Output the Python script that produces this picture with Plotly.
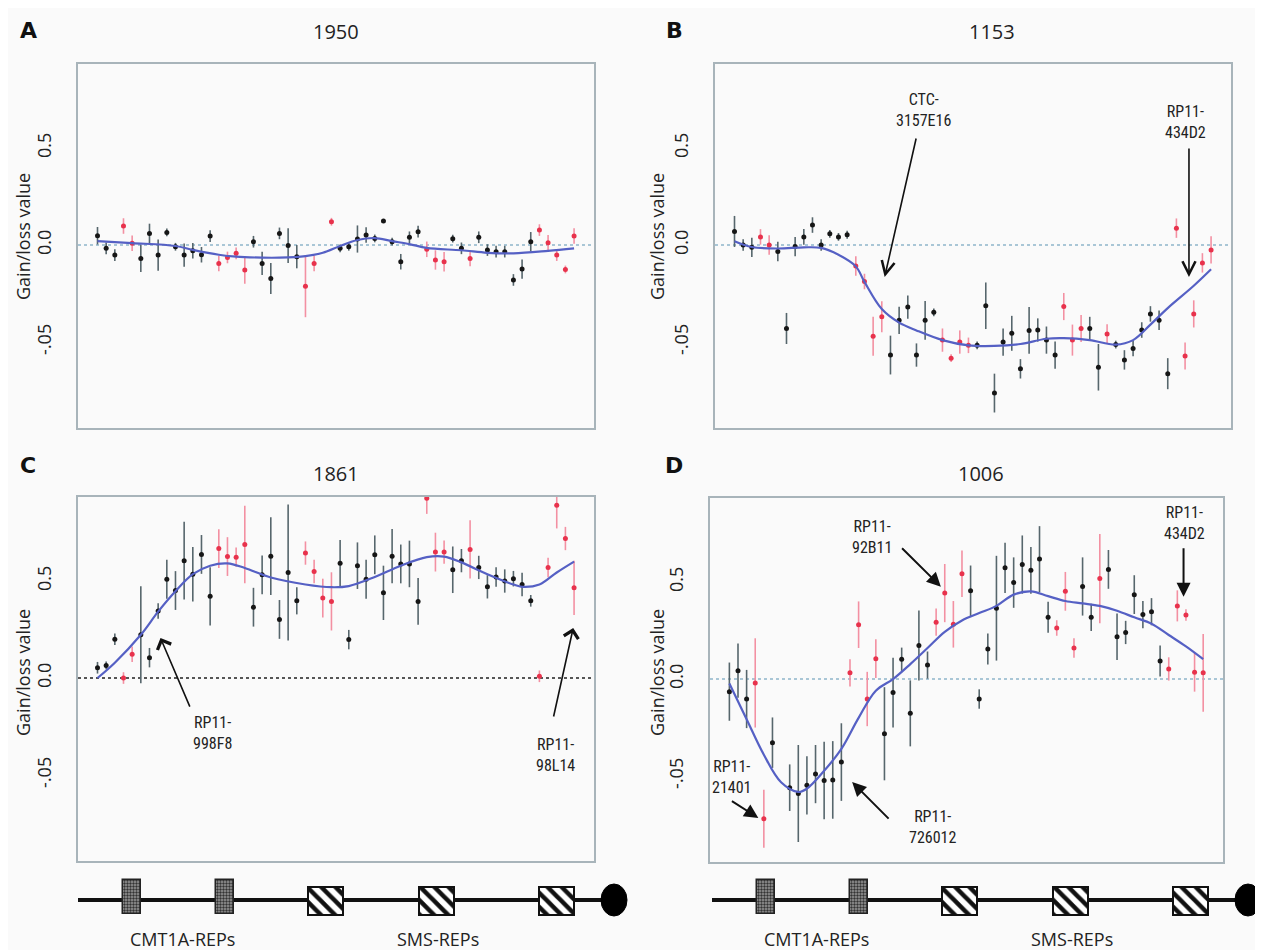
import plotly.graph_objects as go

# page offset of the plot div (browser body margin) is compensated in layout
OFF = 8
W, H = 1263 - OFF, 950 - OFF

# ---------------- data ----------------
clone_idx = list(range(56))
red_clones = [3, 4, 14, 15, 16, 17, 24, 25, 26, 27, 38, 39, 40, 43, 51, 52, 53, 54, 55]

# Panel A (1950)
a_val = [0.048, -0.017, -0.052, 0.098, 0.009, -0.069, 0.06, -0.052, 0.065, -0.009,
         -0.052, -0.03, -0.05, 0.046, -0.095, -0.064, -0.043, -0.129, 0.017, -0.095,
         -0.172, 0.06, -0.003, -0.06, -0.212, -0.095, None, 0.12, -0.017, -0.009,
         0.031, 0.052, 0.034, 0.124, 0.017, -0.086, 0.04, 0.069, -0.022, -0.077,
         -0.086, 0.033, -0.017, -0.069, 0.04, -0.026, -0.034, -0.034, -0.18, -0.124,
         0.017, 0.077, 0.012, -0.052, -0.126, 0.046]
a_err = [0.045, 0.03, 0.03, 0.04, 0.04, 0.07, 0.05, 0.08, 0.02, 0.02,
         0.06, 0.04, 0.04, 0.03, 0.04, 0.03, 0.03, 0.07, 0.03, 0.06,
         0.08, 0.03, 0.09, 0.06, 0.16, 0.04, None, 0.02, 0.02, 0.02,
         0.07, 0.04, 0.02, 0.01, 0.02, 0.04, 0.03, 0.03, 0.04, 0.05,
         0.05, 0.02, 0.03, 0.04, 0.03, 0.03, 0.03, 0.03, 0.03, 0.05,
         0.05, 0.03, 0.04, 0.03, 0.02, 0.04]
a_fit_x = [0, 4, 9, 11, 14, 16, 19, 21, 24, 26, 28, 30, 32, 34, 36, 38, 42, 45, 48, 52, 55]
a_fit_y = [0.02, 0.01, -0.005, -0.025, -0.05, -0.06, -0.065, -0.065, -0.057, -0.04, -0.005,
           0.026, 0.036, 0.02, 0.005, -0.015, -0.027, -0.04, -0.043, -0.03, -0.017]

# Panel B (1153)
b_val = [0.07, 0.0, -0.012, 0.042, 0.0, -0.033, -0.43, -0.008, 0.042, 0.103,
         0.0, 0.058, 0.042, 0.053, -0.108, -0.188, -0.47, -0.37, -0.567, -0.388,
         -0.32, -0.567, -0.388, -0.347, -0.49, -0.583, -0.5, -0.517, -0.517, -0.313,
         -0.763, -0.5, -0.455, -0.638, -0.44, -0.438, -0.49, -0.567, -0.317, -0.49,
         -0.43, -0.43, -0.63, -0.458, -0.513, -0.592, -0.533, -0.438, -0.355, -0.388,
         -0.663, 0.087, -0.572, -0.355, -0.092, -0.025]
b_err = [0.08, 0.03, 0.05, 0.04, 0.05, 0.05, 0.08, 0.05, 0.04, 0.04,
         0.03, 0.02, 0.02, 0.02, 0.05, 0.04, 0.1, 0.08, 0.1, 0.07,
         0.06, 0.06, 0.1, 0.02, 0.06, 0.02, 0.06, 0.04, 0.02, 0.12,
         0.1, 0.07, 0.09, 0.05, 0.12, 0.06, 0.07, 0.07, 0.07, 0.08,
         0.07, 0.06, 0.12, 0.05, 0.02, 0.05, 0.04, 0.04, 0.04, 0.05,
         0.08, 0.05, 0.07, 0.07, 0.05, 0.07]
b_fit_x = [0, 2, 5, 8, 10, 12, 14, 15, 17, 19, 21, 24, 27, 30, 33, 36, 38, 41, 44, 46, 48, 50, 53, 55]
b_fit_y = [0.02, -0.01, -0.018, -0.012, -0.015, -0.05, -0.11, -0.19, -0.33, -0.40, -0.44, -0.49,
           -0.517, -0.52, -0.51, -0.483, -0.48, -0.49, -0.513, -0.49, -0.41, -0.325, -0.21, -0.125]

# Panel C (1861)
c_val = [0.053, 0.065, 0.2, 0.0, 0.123, 0.223, 0.105, 0.346, 0.509, 0.451,
         0.605, 0.535, 0.637, 0.421, 0.667, 0.626, 0.623, 0.688, 0.365, 0.532,
         0.628, 0.302, 0.544, 0.398, 0.644, 0.549, 0.412, 0.395, 0.591, 0.198,
         0.579, 0.509, 0.635, 0.439, 0.628, 0.588, 0.588, 0.395, 0.926, 0.649,
         0.649, 0.558, 0.605, 0.663, 0.57, 0.47, 0.521, 0.5, 0.512, 0.482,
         0.398, 0.009, 0.57, 0.891, 0.719, 0.465]
c_err = [0.03, 0.02, 0.03, 0.03, 0.04, 0.25, 0.05, 0.04, 0.1, 0.1,
         0.2, 0.14, 0.1, 0.15, 0.1, 0.1, 0.05, 0.2, 0.1, 0.1,
         0.2, 0.1, 0.35, 0.07, 0.06, 0.06, 0.1, 0.15, 0.12, 0.05,
         0.12, 0.1, 0.1, 0.14, 0.14, 0.1, 0.12, 0.12, 0.08, 0.1,
         0.06, 0.12, 0.06, 0.15, 0.06, 0.06, 0.05, 0.06, 0.04, 0.06,
         0.03, 0.03, 0.05, 0.12, 0.06, 0.14]
c_fit_x = [0, 2, 5, 7, 9, 11, 13, 15, 17, 20, 24, 27, 29, 32, 35, 38, 40, 42, 45, 48, 49, 51, 53, 55]
c_fit_y = [0.0, 0.079, 0.223, 0.342, 0.447, 0.535, 0.579, 0.591, 0.567, 0.518, 0.482, 0.468,
           0.474, 0.521, 0.579, 0.623, 0.626, 0.596, 0.535, 0.482, 0.47, 0.482, 0.544, 0.6]

# Panel D (1006)
d_val = [-0.065, 0.043, -0.103, -0.02, -0.72, -0.328, None, -0.56, -0.59, -0.548,
         -0.49, -0.523, -0.52, -0.428, 0.032, 0.28, -0.103, 0.105, -0.282, -0.07,
         0.102, -0.177, 0.173, 0.072, 0.293, 0.443, 0.282, 0.543, 0.455, -0.103,
         0.155, 0.365, 0.573, 0.497, 0.59, 0.56, 0.618, 0.318, 0.263, 0.452,
         0.16, 0.477, 0.318, 0.518, 0.565, 0.218, 0.24, 0.435, 0.332, 0.347,
         0.093, 0.052, 0.377, 0.33, 0.035, 0.032]
d_err = [0.15, 0.14, 0.15, 0.23, 0.15, 0.13, None, 0.12, 0.25, 0.15,
         0.15, 0.2, 0.2, 0.2, 0.07, 0.12, 0.14, 0.1, 0.24, 0.18,
         0.06, 0.17, 0.18, 0.07, 0.07, 0.15, 0.12, 0.12, 0.13, 0.05,
         0.08, 0.27, 0.13, 0.13, 0.15, 0.12, 0.17, 0.08, 0.04, 0.1,
         0.05, 0.15, 0.07, 0.23, 0.1, 0.12, 0.06, 0.1, 0.07, 0.07,
         0.08, 0.06, 0.08, 0.03, 0.1, 0.2]
d_fit_x = [0, 2, 4, 6, 8, 9, 11, 13, 15, 17, 19, 21, 23, 25, 27, 29, 31, 33, 35, 37, 39,
           41, 43, 45, 47, 49, 51, 53, 55]
d_fit_y = [-0.023, -0.207, -0.39, -0.532, -0.582, -0.565, -0.473, -0.36, -0.2, -0.06, 0.0,
           0.077, 0.16, 0.243, 0.302, 0.34, 0.377, 0.435, 0.452, 0.427, 0.402, 0.39, 0.377,
           0.352, 0.318, 0.285, 0.227, 0.168, 0.102]

y_tick_vals = [-0.5, 0.0, 0.5]
y_tick_text = ["-.05", "0.0", "0.5"]

# chromosome schematic
rep_pos_cmt = [54, 147]
rep_pos_sms = [247, 358, 478]
rep_labels_pos = [104, 360]
rep_labels = ["CMT1A-REPs", "SMS-REPs"]
centromere_pos = 536

# ---------------- styling ----------------
BG = "#fafafa"
FRAME = "#a8b4ba"
BLACK_PT = "#161616"
BLACK_ERR = "#56666c"
RED_PT = "#e8324c"
RED_ERR = "#f390a2"
FIT = "#5560c4"
MAIN_FONT = "Open Sans, DejaVu Sans, sans-serif"
LABEL_FONT = "Roboto Condensed, DejaVu Sans Condensed, Liberation Sans Narrow, Roboto, sans-serif"

XR = [-2.25, 57.3]
YR = [-0.943, 0.933]


def pxx(p):
    return (p - OFF) / W


def pxy(p):
    return 1 - (p - OFF) / H


panels = [
    dict(name="A", title="1950", val=a_val, err=a_err, fx=a_fit_x, fy=a_fit_y,
         box=(78, 594, 64, 428), zero="#a9c6d6", title_xy=(336, 32), letter_xy=(28, 31),
         ytitle_xy=(23, 237), ax=""),
    dict(name="B", title="1153", val=b_val, err=b_err, fx=b_fit_x, fy=b_fit_y,
         box=(715, 1231, 64, 428), zero="#a9c6d6", title_xy=(992, 32), letter_xy=(674, 31),
         ytitle_xy=(657, 237), ax="2"),
    dict(name="C", title="1861", val=c_val, err=c_err, fx=c_fit_x, fy=c_fit_y,
         box=(78, 594, 497, 861), zero="#555555", title_xy=(336, 473), letter_xy=(28, 465),
         ytitle_xy=(23, 673), ax="3"),
    dict(name="D", title="1006", val=d_val, err=d_err, fx=d_fit_x, fy=d_fit_y,
         box=(710, 1223, 498, 862), zero="#a9c6d6", title_xy=(981, 473), letter_xy=(674, 465),
         ytitle_xy=(657, 673), ax="4"),
]

fig = go.Figure()
layout = dict(width=W, height=H, margin=dict(l=0, r=0, t=0, b=0),
              paper_bgcolor=BG, plot_bgcolor=BG, showlegend=False,
              font=dict(family=MAIN_FONT, color="#222"))
annotations = []
shapes = []

for p in panels:
    ax = p["ax"]
    xa, ya = "x" + ax, "y" + ax
    x0, x1, y0, y1 = p["box"]
    layout["xaxis" + ax] = dict(domain=[pxx(x0), pxx(x1)], range=XR,
                                anchor=ya, showline=True, mirror=True, linecolor=FRAME,
                                linewidth=2, showgrid=False, zeroline=False,
                                showticklabels=False, ticks="")
    layout["yaxis" + ax] = dict(domain=[pxy(y1), pxy(y0)], range=YR,
                                anchor=xa, showline=True, mirror=True, linecolor=FRAME,
                                linewidth=2, showgrid=False, zeroline=False,
                                tickvals=y_tick_vals, ticktext=y_tick_text, tickangle=-90,
                                ticks="", ticklabelstandoff=18,
                                tickfont=dict(size=18, family=MAIN_FONT, color="#222"))
    shapes.append(dict(type="line", xref=xa + " domain", yref=ya, x0=0, x1=1, y0=0, y1=0,
                       line=dict(color=p["zero"], width=2, dash="dot"), layer="below"))
    blk_x = [i for i in clone_idx if i not in red_clones and p["val"][i] is not None]
    red_x = [i for i in clone_idx if i in red_clones and p["val"][i] is not None]
    fig.add_trace(go.Scatter(
        x=blk_x, y=[p["val"][i] for i in blk_x], mode="markers", xaxis=xa, yaxis=ya,
        marker=dict(color=BLACK_PT, size=5),
        error_y=dict(type="data", array=[p["err"][i] for i in blk_x], color=BLACK_ERR,
                     thickness=1.6, width=0)))
    fig.add_trace(go.Scatter(
        x=red_x, y=[p["val"][i] for i in red_x], mode="markers", xaxis=xa, yaxis=ya,
        marker=dict(color=RED_PT, size=5),
        error_y=dict(type="data", array=[p["err"][i] for i in red_x], color=RED_ERR,
                     thickness=1.6, width=0)))
    fig.add_trace(go.Scatter(
        x=p["fx"], y=p["fy"], mode="lines", xaxis=xa, yaxis=ya,
        line=dict(color=FIT, width=2.2, shape="spline", smoothing=1.0)))
    tx, ty = p["title_xy"]
    annotations.append(dict(x=pxx(tx), y=pxy(ty), xref="paper", yref="paper",
                            xanchor="center", yanchor="middle",
                            text=p["title"], showarrow=False,
                            font=dict(size=20, family=MAIN_FONT, color="#222")))
    lx, ly = p["letter_xy"]
    annotations.append(dict(x=pxx(lx), y=pxy(ly), xref="paper", yref="paper",
                            xanchor="center", yanchor="middle",
                            text="<b>" + p["name"] + "</b>", showarrow=False,
                            font=dict(size=22, family="DejaVu Sans, sans-serif", color="#111")))
    gx, gy = p["ytitle_xy"]
    annotations.append(dict(x=pxx(gx), y=pxy(gy), xref="paper", yref="paper",
                            xanchor="center", yanchor="middle",
                            text="Gain/loss value", textangle=-90, showarrow=False,
                            font=dict(size=18, family=MAIN_FONT, color="#222")))


def clone_label(xref, yref, text, tx, ty, tail, tip, head, size, width):
    annotations.append(dict(x=tx, y=ty, xref=xref, yref=yref, text=text, showarrow=False,
                            xanchor="center", yanchor="middle",
                            font=dict(size=16, family=LABEL_FONT, color="#222"),
                            align="center"))
    annotations.append(dict(x=tip[0], y=tip[1], ax=tail[0], ay=tail[1], xref=xref, yref=yref,
                            axref=xref, ayref=yref, text="", showarrow=True,
                            arrowhead=head, arrowsize=size, arrowwidth=width,
                            arrowcolor="#111", standoff=0, startstandoff=0))


# Panel B clone labels
clone_label("x2", "y2", "CTC-<br>3157E16", 21.8, 0.696, (21.0, 0.557), (17.33, -0.165), 5, 1.6, 1.6)
clone_label("x2", "y2", "RP11-<br>434D2", 52.0, 0.634, (52.45, 0.505), (52.45, -0.165), 5, 1.6, 1.6)
# Panel C clone labels
clone_label("x3", "y3", "RP11-<br>998F8", 13.26, -0.284, (10.73, -0.155), (7.27, 0.206), 4, 1.8, 1.6)
clone_label("x3", "y3", "RP11-<br>98L14", 52.8, -0.397, (52.6, -0.206), (54.9, 0.258), 4, 1.8, 1.6)
# Panel D clone labels
clone_label("x4", "y4", "RP11-<br>92B11", 16.5, 0.733, (19.87, 0.682), (24.55, 0.476), 2, 1.4, 2)
clone_label("x4", "y4", "RP11-<br>434D2", 52.84, 0.804, (52.72, 0.682), (52.72, 0.424), 2, 1.4, 2)
clone_label("x4", "y4", "RP11-<br>21401", 0.3, -0.505, (0.12, -0.624), (3.36, -0.716), 2, 1.4, 2)
clone_label("x4", "y4", "RP11-<br>726012", 23.6, -0.763, (18.66, -0.727), (14.25, -0.531), 2, 1.4, 2)

# ---------------- chromosome schematics ----------------
schem = [("5", 78, 640, 562), ("6", 712, 1263, 551)]
for ax, p0, p1, span in schem:
    xa, ya = "x" + ax, "y" + ax
    layout["xaxis" + ax] = dict(domain=[pxx(p0), min(1.0, pxx(p1))], range=[0, span * min(1.0, (W + OFF - p0) / (p1 - p0))],
                                anchor=ya, showline=False, showgrid=False, zeroline=False,
                                showticklabels=False, ticks="")
    layout["yaxis" + ax] = dict(domain=[pxy(930), pxy(870)], range=[-30, 30],
                                anchor=xa, visible=False)
    shapes.append(dict(type="line", xref=xa, yref=ya, x0=0, x1=centromere_pos, y0=0, y1=0,
                       line=dict(color="#111", width=4), layer="below"))
    fig.add_trace(go.Bar(x=rep_pos_cmt, y=[34] * len(rep_pos_cmt), base=-14, width=18,
                         xaxis=xa, yaxis=ya,
                         marker=dict(color="#8a8a8a", line=dict(color="#222", width=1.5),
                                     pattern=dict(shape=".", fgcolor="#333", bgcolor="#9a9a9a",
                                                  size=3, solidity=0.5, fillmode="replace"))))
    fig.add_trace(go.Bar(x=rep_pos_sms, y=[28] * len(rep_pos_sms), base=-15, width=35,
                         xaxis=xa, yaxis=ya,
                         marker=dict(color="white", line=dict(color="#111", width=2),
                                     pattern=dict(shape="\\", fgcolor="#111", bgcolor="white",
                                                  size=10, solidity=0.45, fillmode="replace"))))
    shapes.append(dict(type="circle", xref=xa, yref=ya, x0=centromere_pos - 13,
                       x1=centromere_pos + 13, y0=-16, y1=16, fillcolor="#000",
                       line=dict(color="#000", width=1)))
    for lp, lt in zip(rep_labels_pos, rep_labels):
        annotations.append(dict(x=lp, y=pxy(939), xref=xa, yref="paper", text=lt,
                                xanchor="center", yanchor="middle", showarrow=False,
                                font=dict(size=18, family=MAIN_FONT, color="#222")))

layout["annotations"] = annotations
layout["shapes"] = shapes
layout["bargap"] = 0
fig.update_layout(**layout)
fig.write_html("out.html")
